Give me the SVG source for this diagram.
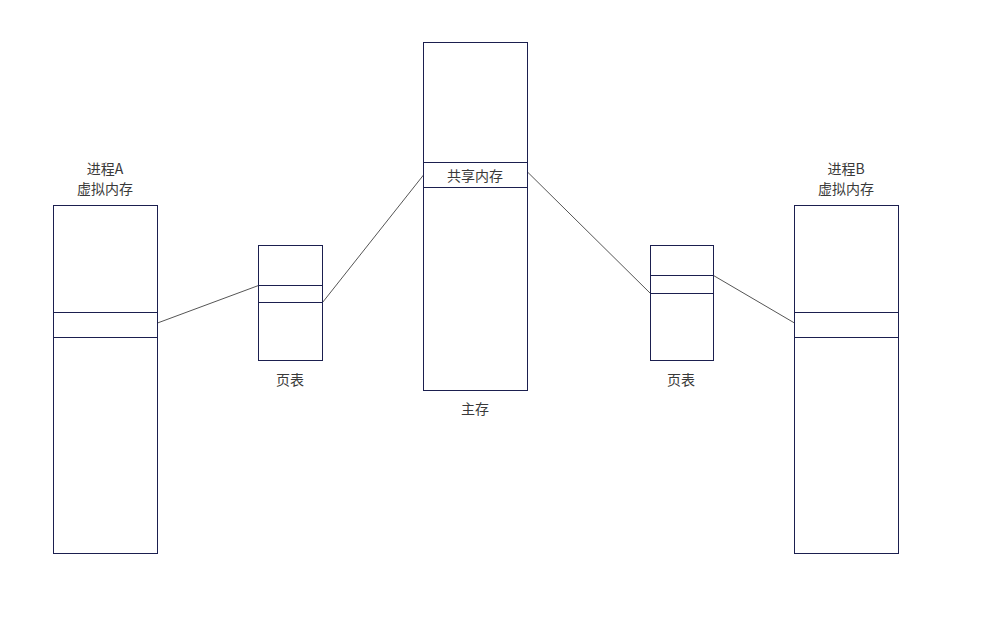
<svg xmlns="http://www.w3.org/2000/svg" width="996" height="618" viewBox="0 0 996 618">
<style>
.box{fill:#fff;stroke:#1b1f4f;stroke-width:1}
.sep{stroke:#1b1f4f;stroke-width:1}
.t{font-family:"Noto Sans CJK SC","Liberation Sans",sans-serif;font-size:14px;fill:#3a3a3a;text-anchor:middle}
.c{stroke:#555;stroke-width:1;fill:none}
</style>
<rect width="996" height="618" fill="#fff"/>
<g id="connectors">
<line class="c" x1="157.5" y1="323" x2="258.5" y2="285.5"/>
<line class="c" x1="322.5" y1="302.5" x2="423.5" y2="175"/>
<line class="c" x1="527.5" y1="172" x2="650.5" y2="293.5"/>
<line class="c" x1="713.5" y1="275.5" x2="794.5" y2="323"/>
</g>
<g id="procA">
<rect class="box" x="53.5" y="205.5" width="104" height="348"/>
<line class="sep" x1="53.5" y1="312.5" x2="157.5" y2="312.5"/>
<line class="sep" x1="53.5" y1="337.5" x2="157.5" y2="337.5"/>
<text class="t" x="105" y="173.5">进程A</text>
<text class="t" x="105" y="193.5">虚拟内存</text>
</g>
<g id="ptA">
<rect class="box" x="258.5" y="245.5" width="64" height="115"/>
<line class="sep" x1="258.5" y1="285.5" x2="322.5" y2="285.5"/>
<line class="sep" x1="258.5" y1="302.5" x2="322.5" y2="302.5"/>
<text class="t" x="290" y="385">页表</text>
</g>
<g id="main">
<rect class="box" x="423.5" y="42.5" width="104" height="348"/>
<line class="sep" x1="423.5" y1="162.5" x2="527.5" y2="162.5"/>
<line class="sep" x1="423.5" y1="187.5" x2="527.5" y2="187.5"/>
<text class="t" x="475" y="181">共享内存</text>
<text class="t" x="475" y="414">主存</text>
</g>
<g id="ptB">
<rect class="box" x="650.5" y="245.5" width="63" height="115"/>
<line class="sep" x1="650.5" y1="275.5" x2="713.5" y2="275.5"/>
<line class="sep" x1="650.5" y1="293.5" x2="713.5" y2="293.5"/>
<text class="t" x="681" y="385">页表</text>
</g>
<g id="procB">
<rect class="box" x="794.5" y="205.5" width="104" height="348"/>
<line class="sep" x1="794.5" y1="312.5" x2="898.5" y2="312.5"/>
<line class="sep" x1="794.5" y1="337.5" x2="898.5" y2="337.5"/>
<text class="t" x="846" y="173.5">进程B</text>
<text class="t" x="846" y="193.5">虚拟内存</text>
</g>
</svg>
